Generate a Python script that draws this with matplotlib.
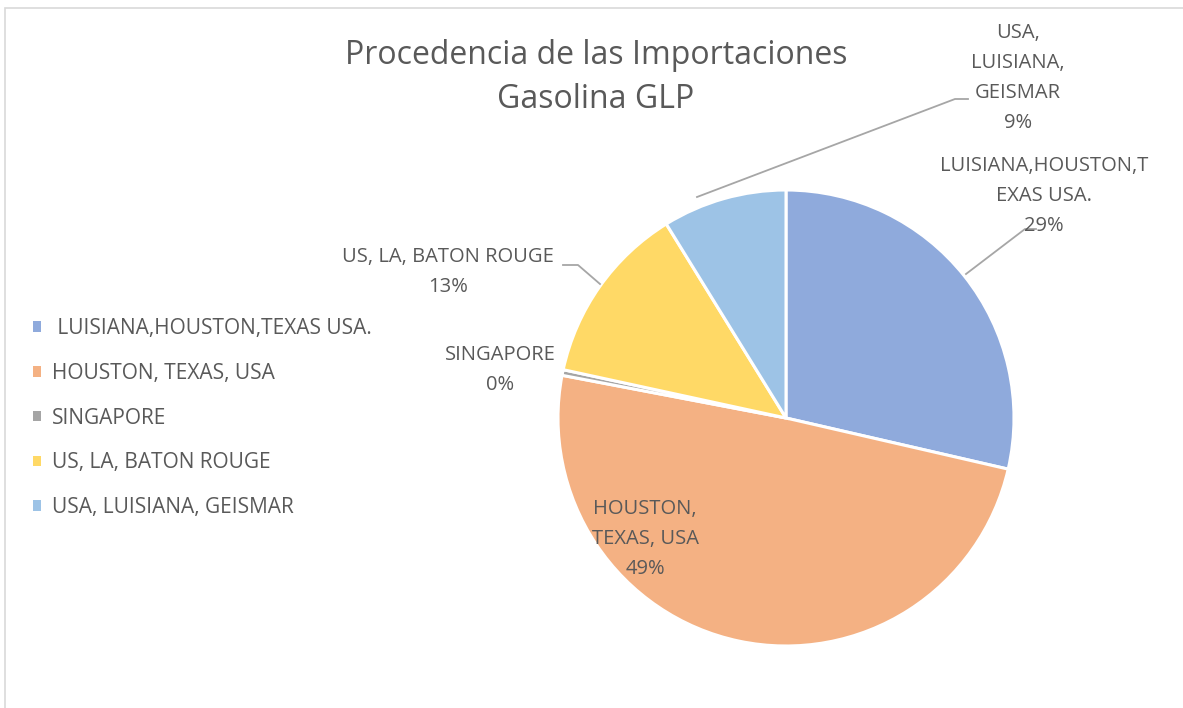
import matplotlib
matplotlib.use("Agg")
import matplotlib.pyplot as plt
from matplotlib.patches import Patch, Rectangle
from matplotlib.lines import Line2D

plt.rcParams["font.family"] = ["Open Sans", "DejaVu Sans"]

W, H = 1183, 708
TXT = "#595959"

categories = [" LUISIANA,HOUSTON,TEXAS USA.", "HOUSTON, TEXAS, USA", "SINGAPORE",
              "US, LA, BATON ROUGE", "USA, LUISIANA, GEISMAR"]
shares = [28.6, 49.4, 0.4, 12.8, 8.8]
colors = ["#8FAADC", "#F4B183", "#A5A5A5", "#FFD966", "#9DC3E6"]
label_text = ["LUISIANA,HOUSTON,T\nEXAS USA.", "HOUSTON,\nTEXAS, USA", "SINGAPORE",
              "US, LA, BATON ROUGE", "USA,\nLUISIANA,\nGEISMAR"]
# label centres and leader lines, in pixels from top-left
label_pos = [(1044, 196), (645, 539), (500, 370), (448, 272), (1018, 78)]
leaders = [[(966, 274), (1025, 229), (1036, 229)], None, None,
           [(600, 284), (578, 265), (563, 265)],
           [(697, 197), (955, 99), (968, 99)]]


def fx(x):
    return x / W


def fy(y):
    return 1 - y / H


fig = plt.figure(figsize=(W / 100, H / 100), dpi=100)

# outer chart border
fig.add_artist(Rectangle((fx(5), fy(760)), fx(1240), 752 / H, transform=fig.transFigure,
                         fill=False, ec="#D9D9D9", lw=1.2))

cx, cy, r = 786, 418, 228
ax = fig.add_axes([fx(cx - r), fy(cy + r), 2 * r / W, 2 * r / H])
ax.pie(shares, colors=colors, startangle=90, counterclock=False, radius=1,
       wedgeprops=dict(edgecolor="white", linewidth=2.2))
ax.set_xlim(-1, 1)
ax.set_ylim(-1, 1)
ax.set_aspect("equal")
ax.axis("off")

total = sum(shares)
for lab, val, (px, py), ld in zip(label_text, shares, label_pos, leaders):
    fig.text(fx(px), fy(py), f"{lab}\n{val / total * 100:.0f}%", ha="center", va="center",
             color=TXT, fontsize=14.5, linespacing=1.68)
    if ld:
        fig.add_artist(Line2D([fx(p[0]) for p in ld], [fy(p[1]) for p in ld],
                              transform=fig.transFigure, color="#A6A6A6", lw=1.3))

fig.text(fx(596), fy(56), "Procedencia de las Importaciones", ha="center", va="center",
         color=TXT, fontsize=23)
fig.text(fx(596), fy(100), "Gasolina GLP", ha="center", va="center",
         color=TXT, fontsize=23)

handles = [Patch(facecolor=c, edgecolor="none") for c in colors]
fig.legend(handles, categories, loc="center left", bbox_to_anchor=(fx(33), fy(418)),
           frameon=False, fontsize=15, handlelength=0.4, handleheight=0.4,
           handletextpad=0.5, labelspacing=1.14, labelcolor=TXT,
           borderpad=0, borderaxespad=0)

fig.savefig("out.png", dpi=100)
